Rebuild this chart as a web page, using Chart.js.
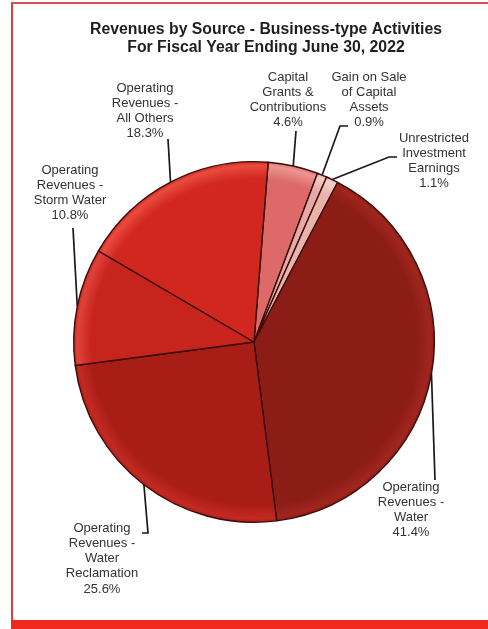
<!DOCTYPE html>
<html>
<head>
<meta charset="utf-8">
<script src="https://cdn.jsdelivr.net/npm/chart.js@4.4.1/dist/chart.umd.min.js"></script>
<style>
  html, body { margin: 0; padding: 0; background: #fff; }
  #wrap { position: relative; width: 488px; height: 629px; overflow: hidden; }
  #frame {
    position: absolute; left: 11px; top: 2px; width: 490px; height: 620px;
    border-left: 2px solid #e33b3b; border-top: 2px solid #d9504e;
    box-sizing: border-box;
  }
  #band { position: absolute; left: 11px; top: 620px; width: 477px; height: 9px; background: #f0291f; }
  #chart { position: absolute; left: 0; top: 0; }
</style>
</head>
<body>
<div id="wrap">
  <div id="frame"></div>
  <div id="band"></div>
  <canvas id="chart" width="488" height="629"></canvas>
</div>
<script>
// Revenue sources, clockwise from the top of the pie
const categories = [
  'Capital Grants & Contributions',
  'Gain on Sale of Capital Assets',
  'Unrestricted Investment Earnings',
  'Operating Revenues - Water',
  'Operating Revenues - Water Reclamation',
  'Operating Revenues - Storm Water',
  'Operating Revenues - All Others'
];
const percents = [4.6, 0.9, 1.1, 41.4, 25.6, 10.8, 18.3];
const labelLines = [
  ['Capital', 'Grants &', 'Contributions'],
  ['Gain on Sale', 'of Capital', 'Assets'],
  ['Unrestricted', 'Investment', 'Earnings'],
  ['Operating', 'Revenues -', 'Water'],
  ['Operating', 'Revenues -', 'Water', 'Reclamation'],
  ['Operating', 'Revenues -', 'Storm Water'],
  ['Operating', 'Revenues -', 'All Others']
];
const titleLines = [
  'Revenues by Source - Business-type Activities',
  'For Fiscal Year Ending June 30, 2022'
];

// slice fills: [base, rim highlight]
const sliceColors = [
  ['#dd6a68', '#eb9591'],
  ['#e6aaa6', '#f2c9c5'],
  ['#e9b2ab', '#f4d0cb'],
  ['#8b1c16', '#a0261e'],
  ['#a91d17', '#c22a22'],
  ['#c7241d', '#e0423a'],
  ['#d1271f', '#ea4a3f']
];

// label block centre x, first-line y, and leader bends (pie end is computed)
const labelPos = [
  { x: 288, y: 77, leader: [[296, 131]] },
  { x: 369, y: 77, leader: [[348, 126], [340, 126]] },
  { x: 434, y: 138, leader: [[397, 157], [389, 157]] },
  { x: 411, y: 487, leader: [[435, 480]] },
  { x: 102, y: 528, leader: [[142, 533], [148, 533]] },
  { x: 70, y: 170, leader: [[73, 228]] },
  { x: 145, y: 88, leader: [[168, 139]] }
];

const FONT = '"Liberation Sans", Arial, sans-serif';
const LINE_H = 15.3;

const sliceFill = (ctx) => {
  const chart = ctx.chart;
  const area = chart.chartArea;
  const c = sliceColors[ctx.dataIndex];
  if (!area) return c[0];
  const cx = (area.left + area.right) / 2;
  const cy = (area.top + area.bottom) / 2;
  const r = Math.min(area.right - area.left, area.bottom - area.top) / 2;
  const g = chart.ctx.createRadialGradient(cx, cy, 0, cx, cy, r);
  g.addColorStop(0, c[0]);
  g.addColorStop(0.9, c[0]);
  g.addColorStop(0.975, c[1]);
  g.addColorStop(1, c[0]);
  return g;
};

const textPlugin = {
  id: 'sliceText',
  afterDraw(chart) {
    const ctx = chart.ctx;
    ctx.save();
    ctx.textAlign = 'center';
    ctx.textBaseline = 'middle';

    ctx.fillStyle = '#1e1e1e';
    ctx.font = 'bold 15.8px ' + FONT;
    titleLines.forEach((t, i) => ctx.fillText(t, 266, 30 + i * 18));

    const arcs = chart.getDatasetMeta(0).data;
    ctx.font = '13px ' + FONT;
    arcs.forEach((arc, i) => {
      const p = arc.getProps(['x', 'y', 'startAngle', 'endAngle', 'outerRadius'], true);
      const mid = (p.startAngle + p.endAngle) / 2;
      const ex = p.x + p.outerRadius * Math.cos(mid);
      const ey = p.y + p.outerRadius * Math.sin(mid);
      const pos = labelPos[i];

      ctx.strokeStyle = '#1a1a1a';
      ctx.lineWidth = 1.7;
      ctx.beginPath();
      pos.leader.forEach((pt, k) => (k ? ctx.lineTo(pt[0], pt[1]) : ctx.moveTo(pt[0], pt[1])));
      ctx.lineTo(ex, ey);
      ctx.stroke();

      ctx.fillStyle = '#333';
      const lines = labelLines[i].concat(percents[i].toFixed(1) + '%');
      lines.forEach((t, k) => ctx.fillText(t, pos.x, pos.y + k * LINE_H));
    });
    ctx.restore();
  }
};

new Chart(document.getElementById('chart'), {
  type: 'pie',
  data: {
    labels: categories,
    datasets: [{
      data: percents,
      backgroundColor: sliceFill,
      borderColor: '#3a0c09',
      borderWidth: 1.4
    }]
  },
  options: {
    responsive: false,
    animation: false,
    rotation: 4.5,
    layout: { padding: { left: 73, right: 53, top: 161, bottom: 106 } },
    plugins: { legend: { display: false }, tooltip: { enabled: false } }
  },
  plugins: [textPlugin]
});
</script>
</body>
</html>
